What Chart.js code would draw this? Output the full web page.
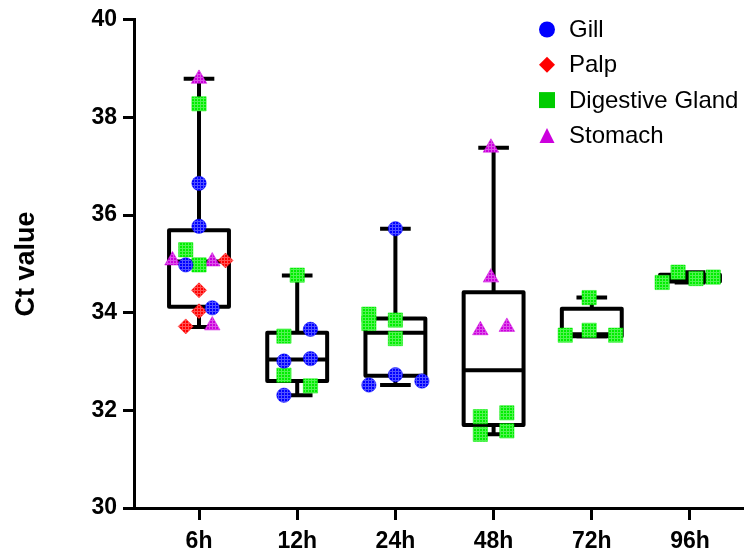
<!DOCTYPE html>
<html>
<head>
<meta charset="utf-8">
<script src="https://cdn.jsdelivr.net/npm/chart.js@4.4.0/dist/chart.umd.min.js"></script>
<style>
  html, body { margin: 0; padding: 0; background: #fff; }
  #wrap { width: 744px; height: 553px; }
</style>
</head>
<body>
<div id="wrap"><canvas id="ctChart" width="744" height="553"></canvas></div>
<script>
const timeLabels = ['6h', '12h', '24h', '48h', '72h', '96h'];
const yTicks = [30, 32, 34, 36, 38, 40];

// box summary per time point (min, Q1, median, Q3, max)
const boxMin = [33.71, 32.31, 32.52, 31.51, 33.52, 34.62];
const boxQ1  = [34.12, 32.60, 32.71, 31.70, 33.52, 34.64];
const boxMed = [35.05, 33.04, 33.59, 32.82, 33.56, 34.70];
const boxQ3  = [35.69, 33.59, 33.88, 34.42, 34.08, 34.78];
const boxMax = [38.79, 34.76, 35.72, 37.38, 34.31, 34.83];

// samples: time index, column within the dot cloud, Ct value
const gillTime = [0, 0, 0, 0, 1, 1, 1, 1, 2, 2, 2, 2];
const gillCol  = [0, 0, -1, 1, 1, -1, 1, -1, 0, 0, -2, 2];
const gillCt   = [36.65, 35.77, 34.98, 34.10, 33.66, 33.01, 33.06, 32.31, 35.72, 32.73, 32.52, 32.60];

const palpTime = [0, 0, 0, 0];
const palpCol  = [2, 0, 0, -1];
const palpCt   = [35.07, 34.46, 34.03, 33.72];

const dgTime = [0, 0, 0, 1, 1, 1, 1, 2, 2, 2, 2, 3, 3, 3, 3, 4, 4, 4, 4, 5, 5, 5, 5];
const dgCol  = [0, -1, 0, 0, -1, -1, 1, -2, -2, 0, 0, -1, 1, -1, 1, -0.2, -2, -0.2, 1.8, -2.1, -0.9, 0.45, 1.75];
const dgCt   = [38.28, 35.29, 34.98, 34.77, 33.52, 32.72, 32.50, 33.97, 33.78, 33.85, 33.47,
                31.87, 31.95, 31.51, 31.58, 34.31, 33.54, 33.64, 33.54, 34.62, 34.83, 34.70, 34.73];

const stomachTime = [0, 0, 0, 0, 3, 3, 3, 3];
const stomachCol  = [0, -2, 1, 1, -0.2, -0.2, -1, 1];
const stomachCt   = [38.79, 35.07, 35.05, 33.74, 37.38, 34.72, 33.64, 33.71];

const FONT = "'Liberation Sans', Arial, Helvetica, sans-serif";
const COL_STEP = 0.135;   // x units between dot columns
const BOX_HALF = 0.305;
const CAP_HALF = 0.156;

function gridPattern(color) {
  const c = document.createElement('canvas');
  c.width = 3; c.height = 3;
  const g = c.getContext('2d');
  g.fillStyle = color;
  g.fillRect(0, 0, 3, 3);
  g.fillStyle = 'rgba(255,255,255,0.32)';
  g.fillRect(0, 2, 3, 1);
  g.fillRect(2, 0, 1, 2);
  return g.createPattern(c, 'repeat');
}

function points(times, cols, cts) {
  return cts.map((v, i) => ({ x: times[i] + 1 + cols[i] * COL_STEP, y: v }));
}

const series = [
  { label: 'Gill', color: '#0000ff', style: 'circle', r: 7.2, data: points(gillTime, gillCol, gillCt) },
  { label: 'Palp', color: '#ff0000', style: 'rectRot', r: 7.5, data: points(palpTime, palpCol, palpCt) },
  { label: 'Digestive Gland', color: '#00ee00', legendColor: '#00cc00', style: 'rect', r: 10.1, data: points(dgTime, dgCol, dgCt) },
  { label: 'Stomach', color: '#cc00dd', style: 'triangle', r: 9, data: points(stomachTime, stomachCol, stomachCt) }
];

const boxPlotPlugin = {
  id: 'boxPlot',
  beforeDatasetsDraw(chart) {
    const { ctx, scales: { x, y } } = chart;
    ctx.save();
    ctx.strokeStyle = '#000';
    ctx.lineWidth = 4;
    ctx.lineJoin = 'round';
    timeLabels.forEach((_, i) => {
      const c = x.getPixelForValue(i + 1);
      const l = x.getPixelForValue(i + 1 - BOX_HALF);
      const r = x.getPixelForValue(i + 1 + BOX_HALF);
      const cl = x.getPixelForValue(i + 1 - CAP_HALF);
      const cr = x.getPixelForValue(i + 1 + CAP_HALF);
      const yMin = y.getPixelForValue(boxMin[i]);
      const yQ1 = y.getPixelForValue(boxQ1[i]);
      const yMed = y.getPixelForValue(boxMed[i]);
      const yQ3 = y.getPixelForValue(boxQ3[i]);
      const yMax = y.getPixelForValue(boxMax[i]);
      ctx.beginPath();
      ctx.moveTo(c, yQ3); ctx.lineTo(c, yMax);
      ctx.moveTo(cl, yMax); ctx.lineTo(cr, yMax);
      ctx.moveTo(c, yQ1); ctx.lineTo(c, yMin);
      ctx.moveTo(cl, yMin); ctx.lineTo(cr, yMin);
      ctx.stroke();
      ctx.beginPath();
      ctx.rect(l, yQ3, r - l, yQ1 - yQ3);
      ctx.moveTo(l, yMed); ctx.lineTo(r, yMed);
      ctx.stroke();
    });
    ctx.restore();
  }
};

function drawMarker(ctx, style, x, y, size) {
  ctx.beginPath();
  if (style === 'circle') {
    ctx.arc(x, y, size / 2, 0, Math.PI * 2);
  } else if (style === 'rect') {
    ctx.rect(x - size / 2, y - size / 2, size, size);
  } else if (style === 'rectRot') {
    ctx.moveTo(x, y - size / 2); ctx.lineTo(x + size / 2, y);
    ctx.lineTo(x, y + size / 2); ctx.lineTo(x - size / 2, y);
  } else {
    ctx.moveTo(x, y - size / 2); ctx.lineTo(x + size / 2, y + size / 2);
    ctx.lineTo(x - size / 2, y + size / 2);
  }
  ctx.closePath();
  ctx.fill();
}

const legendPlugin = {
  id: 'cornerLegend',
  afterDraw(chart) {
    const ctx = chart.ctx;
    ctx.save();
    ctx.font = '24px ' + FONT;
    ctx.textBaseline = 'middle';
    ctx.textAlign = 'left';
    series.forEach((s, i) => {
      const y = 29.5 + i * 35.3;
      ctx.fillStyle = s.legendColor || s.color;
      drawMarker(ctx, s.style, 547, y, s.style === 'triangle' ? 15 : 16);
      ctx.fillStyle = '#000';
      ctx.fillText(s.label, 569, y + 1);
    });
    ctx.restore();
  }
};

Chart.defaults.font.family = FONT;
Chart.defaults.color = '#000';

new Chart(document.getElementById('ctChart'), {
  type: 'scatter',
  data: {
    datasets: series.map(s => ({
      label: s.label,
      data: s.data,
      pointStyle: s.style,
      pointRadius: s.r,
      pointHoverRadius: s.r,
      backgroundColor: gridPattern(s.color),
      borderColor: s.color,
      borderWidth: 0.5
    }))
  },
  options: {
    responsive: false,
    animation: false,
    devicePixelRatio: 1,
    layout: { autoPadding: false, padding: { top: 19, right: 0, bottom: 0, left: 0 } },
    plugins: { legend: { display: false }, tooltip: { enabled: false } },
    scales: {
      x: {
        type: 'linear',
        min: 0.338,
        max: 6.55,
        afterBuildTicks: s => { s.ticks = timeLabels.map((_, i) => ({ value: i + 1 })); },
        afterFit: s => { s.height = 45; s.paddingLeft = 0; s.paddingRight = 0; },
        ticks: {
          callback: v => timeLabels[v - 1] || '',
          font: { size: 23, weight: 'bold' },
          padding: 8,
          maxRotation: 0
        },
        grid: { drawOnChartArea: false, tickLength: 12, tickWidth: 3, tickColor: '#000' },
        border: { color: '#000', width: 3 }
      },
      y: {
        min: 30,
        max: 40,
        afterBuildTicks: s => { s.ticks = yTicks.map(v => ({ value: v })); },
        afterFit: s => { s.width = 134; },
        ticks: { font: { size: 23, weight: 'bold' }, padding: 6 },
        grid: { drawOnChartArea: false, tickLength: 11, tickWidth: 3, tickColor: '#000' },
        border: { color: '#000', width: 3 },
        title: {
          display: true,
          text: 'Ct value',
          font: { size: 27, weight: 'bold' },
          padding: { top: 10, bottom: 0 }
        }
      }
    }
  },
  plugins: [boxPlotPlugin, legendPlugin]
});
</script>
</body>
</html>
